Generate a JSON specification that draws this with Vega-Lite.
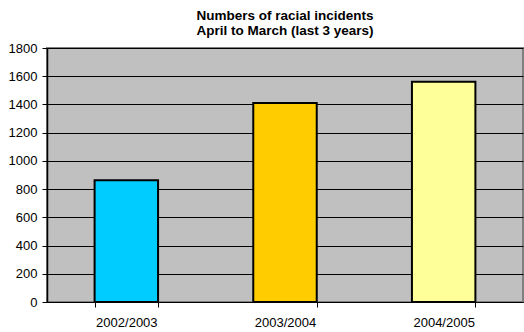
{
  "$schema": "https://vega.github.io/schema/vega-lite/v6.json",
  "autosize": {"type": "none"},
  "width": 476,
  "height": 254,
  "padding": {"left": 47, "top": 48, "right": 1, "bottom": 30},
  "background": "white",
  "title": {
    "text": ["Numbers of racial incidents", "April to March (last 3 years)"],
    "font": "Liberation Sans",
    "fontSize": 13.5,
    "fontWeight": "bold",
    "color": "black",
    "anchor": "middle",
    "lineHeight": 15,
    "offset": 5
  },
  "config": {
    "view": {"fill": "#C0C0C0", "stroke": "#808080", "strokeWidth": 2},
    "axis": {
      "labelFont": "Liberation Sans",
      "labelFontSize": 13,
      "labelColor": "black",
      "domainColor": "black",
      "tickColor": "black",
      "title": null
    }
  },
  "data": {
    "values": [
      {"year": "2002/2003", "incidents": 863},
      {"year": "2003/2004", "incidents": 1411},
      {"year": "2004/2005", "incidents": 1560}
    ]
  },
  "mark": {"type": "bar", "stroke": "black", "strokeWidth": 2},
  "encoding": {
    "x": {
      "field": "year",
      "type": "nominal",
      "sort": null,
      "scale": {"paddingInner": 0.6, "paddingOuter": 0.3},
      "axis": {"labelAngle": 0, "tickBand": "extent", "tickSize": 5, "labelPadding": 9, "grid": false, "domainWidth": 1}
    },
    "y": {
      "field": "incidents",
      "type": "quantitative",
      "scale": {"domain": [0, 1800], "nice": false},
      "axis": {"values": [0, 200, 400, 600, 800, 1000, 1200, 1400, 1600, 1800], "format": "d", "tickSize": 5, "labelPadding": 5, "grid": true, "gridColor": "black", "gridOpacity": 1, "gridWidth": 1, "domainWidth": 1.5}
    },
    "color": {
      "field": "year",
      "type": "nominal",
      "scale": {"domain": ["2002/2003", "2003/2004", "2004/2005"], "range": ["#00CCFF", "#FFCC00", "#FFFF99"]},
      "legend": null
    }
  }
}
